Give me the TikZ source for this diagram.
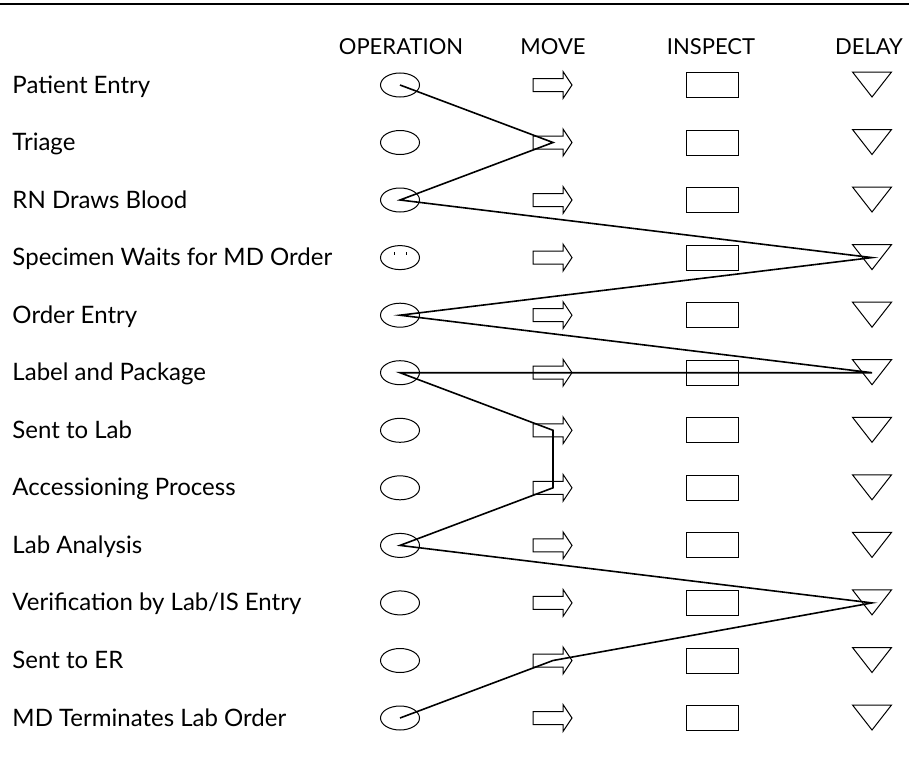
\documentclass[tikz,border=0pt]{standalone}
\usepackage{fontspec}
\setmainfont{Lato}
\usetikzlibrary{shapes.geometric}

\begin{document}
\begin{tikzpicture}[x=1pt, y=-1pt, line width=1pt, font=\fontsize{22}{26}\selectfont,
		op/.style = {draw, ellipse, minimum width=39pt, minimum height=24pt, inner sep=0pt},
		insp/.style = {draw, rectangle, minimum width=52pt, minimum height=25pt, inner sep=0pt},
		lbl/.style = {anchor=base west, inner sep=0pt, font=\fontsize{24}{28}\selectfont},
		hd/.style = {anchor=base, inner sep=0pt},
		flow/.style = {line width=1.6pt},
		mvarrow/.pic = {\draw (-20,-6.5) -- (10,-6.5) -- (10,-13.5) -- (19,0) -- (10,13.5) -- (10,6.5) -- (-20,6.5) -- cycle;},
		dlytri/.pic = {\draw (-19.5,-13) -- (19.5,-13) -- (0,12) -- cycle;}]
		\useasboundingbox (0,0) rectangle (909,760);
		\draw[line width=1.5pt] (0,4) -- (909,4);
		% column heads
		\node[hd] (hop) at (401,55) {OPERATION};
		\node[hd] (hmv) at (553,55) {MOVE};
		\node[hd] (hin) at (711,55) {INSPECT};
		\node[hd] (hdl) at (869,55) {DELAY};
		% row labels
		\node[lbl] (t1) at (12,93) {Patient Entry};
		\node[lbl] (t2) at (12,150.5) {Triage};
		\node[lbl] (t3) at (12,208) {RN Draws Blood};
		\node[lbl] (t4) at (12,265.6) {Specimen Waits for MD Order};
		\node[lbl] (t5) at (12,323.2) {Order Entry};
		\node[lbl] (t6) at (12,380.7) {Label and Package};
		\node[lbl] (t7) at (12,438.3) {Sent to Lab};
		\node[lbl] (t8) at (12,495.8) {Accessioning Process};
		\node[lbl] (t9) at (12,553.4) {Lab Analysis};
		\node[lbl] (t10) at (12,610.9) {Verification by Lab/IS Entry};
		\node[lbl] (t11) at (12,668.5) {Sent to ER};
		\node[lbl] (t12) at (12,726) {MD Terminates Lab Order};
		% operations
		\node[op] (op1) at (400,85) {};
		\node[op] (op2) at (400,142.5) {};
		\node[op] (op3) at (400,200) {};
		\node[op] (op4) at (400,257.6) {};
		\node[op] (op5) at (400,315.2) {};
		\node[op] (op6) at (400,372.7) {};
		\node[op] (op7) at (400,430.3) {};
		\node[op] (op8) at (400,487.8) {};
		\node[op] (op9) at (400,545.4) {};
		\node[op] (op10) at (400,602.9) {};
		\node[op] (op11) at (400,660.5) {};
		\node[op] (op12) at (400,718) {};
		\draw[line width=0.6pt] (394,252) -- (394,255) (406,252) -- (406,255);
		% moves
		\coordinate (mv1) at (553,85);
		\coordinate (mv2) at (553,142.5);
		\coordinate (mv3) at (553,200);
		\coordinate (mv4) at (553,257.6);
		\coordinate (mv5) at (553,315.2);
		\coordinate (mv6) at (553,372.7);
		\coordinate (mv7) at (553,430.3);
		\coordinate (mv8) at (553,487.8);
		\coordinate (mv9) at (553,545.4);
		\coordinate (mv10) at (553,602.9);
		\coordinate (mv11) at (553,660.5);
		\coordinate (mv12) at (553,718);
		\pic at (mv1) {mvarrow}; \pic at (mv2) {mvarrow}; \pic at (mv3) {mvarrow};
		\pic at (mv4) {mvarrow}; \pic at (mv5) {mvarrow}; \pic at (mv6) {mvarrow};
		\pic at (mv7) {mvarrow}; \pic at (mv8) {mvarrow}; \pic at (mv9) {mvarrow};
		\pic at (mv10) {mvarrow}; \pic at (mv11) {mvarrow}; \pic at (mv12) {mvarrow};
		% inspections
		\node[insp] (in1) at (712,85) {};
		\node[insp] (in2) at (712,142.5) {};
		\node[insp] (in3) at (712,200) {};
		\node[insp] (in4) at (712,257.6) {};
		\node[insp] (in5) at (712,315.2) {};
		\node[insp] (in6) at (712,372.7) {};
		\node[insp] (in7) at (712,430.3) {};
		\node[insp] (in8) at (712,487.8) {};
		\node[insp] (in9) at (712,545.4) {};
		\node[insp] (in10) at (712,602.9) {};
		\node[insp] (in11) at (712,660.5) {};
		\node[insp] (in12) at (712,718) {};
		% delays
		\coordinate (dl1) at (872,85);
		\coordinate (dl2) at (872,142.5);
		\coordinate (dl3) at (872,200);
		\coordinate (dl4) at (872,257.6);
		\coordinate (dl5) at (872,315.2);
		\coordinate (dl6) at (872,372.7);
		\coordinate (dl7) at (872,430.3);
		\coordinate (dl8) at (872,487.8);
		\coordinate (dl9) at (872,545.4);
		\coordinate (dl10) at (872,602.9);
		\coordinate (dl11) at (872,660.5);
		\coordinate (dl12) at (872,718);
		\pic at (dl1) {dlytri}; \pic at (dl2) {dlytri}; \pic at (dl3) {dlytri};
		\pic at (dl4) {dlytri}; \pic at (dl5) {dlytri}; \pic at (dl6) {dlytri};
		\pic at (dl7) {dlytri}; \pic at (dl8) {dlytri}; \pic at (dl9) {dlytri};
		\pic at (dl10) {dlytri}; \pic at (dl11) {dlytri}; \pic at (dl12) {dlytri};
		% process flow
		\draw[flow] (op1.center) -- (mv2) -- (op3.center) -- (dl4) -- (op5.center) -- (dl6)
			-- (op6.center) -- (mv7) -- (mv8) -- (op9.center) -- (dl10) -- (mv11) -- (op12.center);
	\end{tikzpicture}
\end{document}
